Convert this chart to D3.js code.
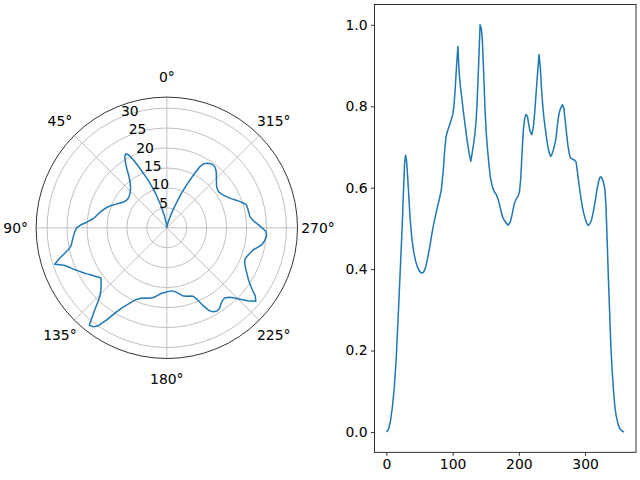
<!DOCTYPE html>
<html>
<head>
<meta charset="utf-8">
<script src="https://d3js.org/d3.v7.min.js"></script>
<style>
  body { margin: 0; background: #fff; }
  svg { display: block; }
  text { font-family: "DejaVu Sans", sans-serif; font-size: 13.9px; fill: #000; }
</style>
</head>
<body>
<div id="chart"></div>
<script>
// Angles (degrees) and normalised level
var angles = [0, 3, 6, 9, 12, 15, 18, 21, 24, 26, 27.5, 29, 30.5, 32, 34, 36, 38.5, 41, 44, 47,
    50, 53, 56, 59, 62, 65, 68, 71, 74, 77, 80, 83, 86, 88, 90, 92.5, 95, 97.5, 100, 102,
    104, 106, 108, 110, 112, 114, 116, 118, 120, 122, 124, 126, 127.5, 129.5, 131.5, 133.5, 135.5, 137, 139, 141.5,
    143.5, 145, 147, 149, 151, 153, 155, 157, 160, 163, 166, 169, 172, 175, 178, 181, 184, 187, 190, 193,
    196, 199, 201, 203, 205, 207, 209, 211, 213, 215, 217, 219.5, 222, 224, 226, 228, 230.5, 232.5, 234, 236,
    238, 240, 242, 244, 246, 248, 250, 252, 254, 256, 258, 260, 262, 264, 266, 268, 270, 272, 274, 276,
    278, 281, 284, 286.5, 288, 290, 292, 294, 296, 298, 300, 302, 305, 308, 310, 312, 314, 316, 318, 320,
    322, 324, 326, 328, 330, 331.5, 333, 335, 337, 339, 341, 343, 345, 347, 350, 353, 356, 359];
var levels = [0.0, 0.005, 0.025, 0.06, 0.11, 0.185, 0.29, 0.40, 0.51, 0.60, 0.66, 0.68, 0.665, 0.63, 0.575, 0.52, 0.475, 0.445, 0.42, 0.405,
    0.395, 0.39, 0.392, 0.403, 0.425, 0.45, 0.48, 0.507, 0.53, 0.552, 0.572, 0.595, 0.645, 0.69, 0.725, 0.74, 0.752, 0.765, 0.778, 0.80,
    0.845, 0.90, 0.947, 0.88, 0.845, 0.82, 0.79, 0.765, 0.74, 0.715, 0.695, 0.675, 0.665, 0.685, 0.705, 0.73, 0.765, 0.81, 0.89, 1.0,
    0.99, 0.96, 0.88, 0.79, 0.73, 0.69, 0.655, 0.625, 0.602, 0.59, 0.583, 0.57, 0.55, 0.53, 0.52, 0.513, 0.508, 0.515, 0.535, 0.56,
    0.572, 0.58, 0.59, 0.625, 0.69, 0.745, 0.772, 0.78, 0.775, 0.755, 0.738, 0.73, 0.75, 0.785, 0.83, 0.875, 0.927, 0.895, 0.85, 0.805,
    0.77, 0.745, 0.72, 0.70, 0.685, 0.677, 0.682, 0.692, 0.705, 0.72, 0.75, 0.775, 0.79, 0.798, 0.804, 0.795, 0.765, 0.735, 0.705, 0.685,
    0.673, 0.67, 0.668, 0.663, 0.645, 0.62, 0.595, 0.572, 0.553, 0.537, 0.525, 0.515, 0.507, 0.513, 0.522, 0.537, 0.555, 0.573, 0.595, 0.612,
    0.624, 0.627, 0.622, 0.612, 0.595, 0.56, 0.49, 0.39, 0.30, 0.21, 0.15, 0.10, 0.063, 0.04, 0.018, 0.007, 0.002, 0.0];
// Peak radius of the polar trace (polar radius = level * peakRadius)
var peakRadius = 31.2;

var thetaTicks = [0, 45, 90, 135, 180, 225, 270, 315];
var rTicks = [5, 10, 15, 20, 25, 30];
var xTicks = [0, 100, 200, 300];
var yTicks = [0.0, 0.2, 0.4, 0.6, 0.8, 1.0];

var lineColor = "#1f77b4";
var width = 640, height = 480;

var svg = d3.select("#chart").append("svg")
    .attr("width", width)
    .attr("height", height);

var points = angles.map(function (a, i) { return { angle: a, level: levels[i] }; });

// ---- polar panel ----
var cx = 166.8, cy = 227.8, outerR = 130.7;
var rMax = peakRadius * 1.05;
var rScale = d3.scaleLinear().domain([0, rMax]).range([0, outerR]);
var toRad = function (deg) { return deg * Math.PI / 180; };

var polar = svg.append("g").attr("transform", "translate(" + cx + "," + cy + ")");

polar.selectAll("circle.grid")
    .data(rTicks)
    .enter().append("circle")
    .attr("class", "grid")
    .attr("r", function (d) { return rScale(d); })
    .attr("fill", "none")
    .attr("stroke", "#b0b0b0")
    .attr("stroke-width", 0.8);

// spokes: angle counter-clockwise from north
polar.selectAll("line.spoke")
    .data(thetaTicks)
    .enter().append("line")
    .attr("class", "spoke")
    .attr("x1", 0).attr("y1", 0)
    .attr("x2", function (d) { return -outerR * Math.sin(toRad(d)); })
    .attr("y2", function (d) { return -outerR * Math.cos(toRad(d)); })
    .attr("stroke", "#b0b0b0")
    .attr("stroke-width", 0.8);

var radial = d3.lineRadial()
    .angle(function (d) { return -toRad(d.angle); })
    .radius(function (d) { return rScale(d.level * peakRadius); });

polar.append("path")
    .attr("d", radial(points))
    .attr("fill", "none")
    .attr("stroke", lineColor)
    .attr("stroke-width", 1.5)
    .attr("stroke-linejoin", "round");

polar.append("circle")
    .attr("r", outerR)
    .attr("fill", "none")
    .attr("stroke", "#000")
    .attr("stroke-width", 0.8);

var labelR = outerR + 20.5;
polar.selectAll("text.theta")
    .data(thetaTicks)
    .enter().append("text")
    .attr("class", "theta")
    .attr("x", function (d) { return -labelR * Math.sin(toRad(d)); })
    .attr("y", function (d) { return -labelR * Math.cos(toRad(d)); })
    .attr("text-anchor", "middle")
    .attr("dominant-baseline", "central")
    .text(function (d) { return d + "°"; });

// radial labels along 22.5 degrees
var rLabelAngle = toRad(22.5);
polar.selectAll("text.rlabel")
    .data(rTicks)
    .enter().append("text")
    .attr("class", "rlabel")
    .attr("x", function (d) { return -rScale(d) * Math.sin(rLabelAngle); })
    .attr("y", function (d) { return -rScale(d) * Math.cos(rLabelAngle) - 1.5; })
    .attr("text-anchor", "start")
    .text(function (d) { return d; });

// ---- cartesian panel ----
var box = { left: 374.5, right: 636, top: 4.5, bottom: 452.3 };
var xSpan = d3.max(angles) - d3.min(angles);
var x = d3.scaleLinear()
    .domain([d3.min(angles) - 0.05 * xSpan, d3.max(angles) + 0.05 * xSpan])
    .range([box.left, box.right]);
var y = d3.scaleLinear()
    .domain([-0.05, 1.05])
    .range([box.bottom, box.top]);

var line = d3.line()
    .x(function (d) { return x(d.angle); })
    .y(function (d) { return y(d.level); });

svg.append("path")
    .attr("d", line(points))
    .attr("fill", "none")
    .attr("stroke", lineColor)
    .attr("stroke-width", 1.5)
    .attr("stroke-linejoin", "round");

var xAxis = d3.axisBottom(x).tickValues(xTicks).tickSize(3.5).tickPadding(3.5).tickFormat(d3.format("d"));
var yAxis = d3.axisLeft(y).tickValues(yTicks).tickSize(3.5).tickPadding(3.5).tickFormat(d3.format(".1f"));

var gx = svg.append("g")
    .attr("transform", "translate(0," + box.bottom + ")")
    .call(xAxis);
var gy = svg.append("g")
    .attr("transform", "translate(" + box.left + ",0)")
    .call(yAxis);

[gx, gy].forEach(function (g) {
    g.select(".domain").remove();
    g.selectAll(".tick line").attr("stroke", "#000").attr("stroke-width", 0.8);
    g.selectAll(".tick text").attr("font-family", "DejaVu Sans").attr("font-size", "13.9px");
});

svg.append("rect")
    .attr("x", box.left).attr("y", box.top)
    .attr("width", box.right - box.left)
    .attr("height", box.bottom - box.top)
    .attr("fill", "none")
    .attr("stroke", "#000")
    .attr("stroke-width", 0.8);
</script>
</body>
</html>
